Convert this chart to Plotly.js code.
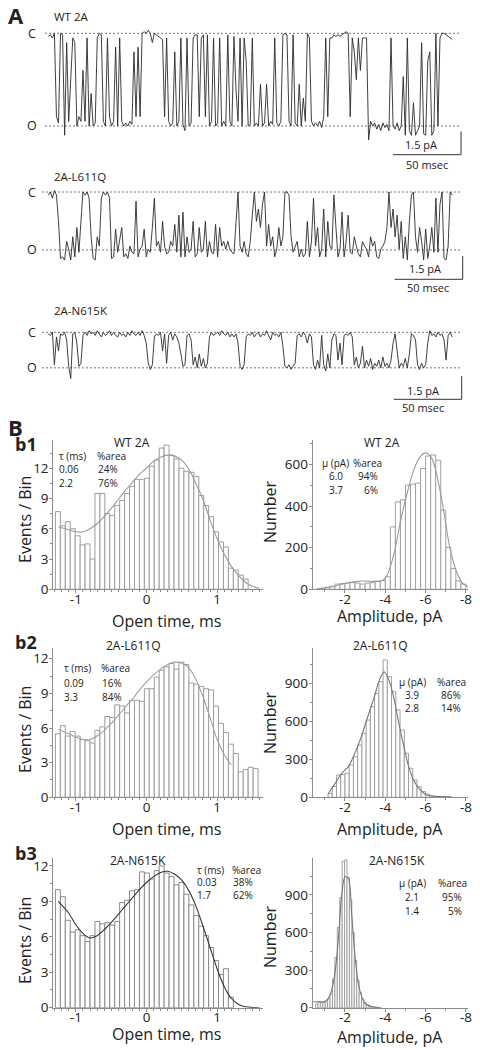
<!DOCTYPE html>
<html><head><meta charset="utf-8">
<script src="https://cdn.plot.ly/plotly-3.0.1.min.js"></script>
<style>html,body{margin:0;padding:0;background:#fff}#chart{width:480px;height:1050px}</style>
</head><body><div id="chart"></div>
<script>
// ---------------- DATA ----------------
// Panel A: single-channel current traces (pA), sampled every 1.5 ms
const sampleMs = 1.5;
const traceNames = ['WT 2A', '2A-L611Q', '2A-N615K'];
const openLevels = [-6.0, -3.75, -2.3];
const wtCurrent = [
-0.2,-0.1,-0.3,0,-5.4,-5.8,0,-0.1,-6.6,-0.6,-5.7,-3.0,-0.3,-0.6,-6.0,-5.4,-5.7,-2.4,-5.7,-0.3,
-6.0,-3.9,-6.0,-5.8,-0.3,0,-0.1,-5.7,-6.0,-0.3,-5.4,-6.0,-5.7,-0.9,-6.0,-0.3,-5.7,-6.0,-5.8,-6.0,
-5.7,-5.9,-1.2,-5.4,-0.9,-5.4,0,0.1,0,0.2,0,-0.6,0,-0.1,-0.2,-0.3,-0.4,-5.4,-0.3,-5.7,
-6.0,-5.8,-1.2,-6.0,-5.7,-0.3,-5.9,-6.3,-0.3,-6.0,-5.8,-0.3,-0.1,-0.1,-5.4,-0.3,-0.1,-5.4,-0.1,-6.0,
-5.7,-0.3,-6.0,-5.8,-0.3,-6.0,-5.7,-6.0,-0.1,-5.7,-6.0,-0.2,-3.6,-5.7,-0.3,-6.0,-0.3,-1.8,-6.0,-5.9,
-0.3,-6.0,-5.8,-6.0,-3.3,-6.0,-5.8,-3.3,-6.0,-5.7,-5.9,-0.3,-5.8,-6.0,-5.7,-0.1,0,-0.1,-5.7,-6.0,
-0.1,-5.8,-6.0,-3.3,-6.0,-4.2,-5.7,0,-0.3,-5.7,-6.0,-5.8,-6.0,-5.7,-6.1,-5.4,-0.3,-5.4,-0.3,-0.3,
-0.1,-0.2,-0.1,-0.2,-0.1,0,0.1,0,-5.4,-0.3,-1.2,-3.0,-0.3,-2.4,-0.3,-0.3,-0.3,-6.9,-5.7,-6.0,
-5.8,-6.2,-5.9,-6.3,-5.8,-6.1,-5.9,-6.3,-0.3,-6.0,-6.2,-5.8,-6.3,-6.0,-2.8,-6.6,-0.3,-6.3,-6.6,-4.5,
-6.6,-6.3,-6.0,-0.6,-6.5,-6.6,-1.8,-1.2,-6.6,-6.3,0,-6.0,-0.3,0,0,-0.1,-0.2,-0.3,-0.4];
const l611qCurrent = [
-0.2,0,-0.4,0.1,-0.2,-1.9,-4.3,-4.2,-4.4,-3.2,-3.7,-4.4,-2.9,-4.2,-2.3,-3.9,-1.9,0,-0.2,0,
-0.4,-2.9,-4.3,-4.4,-2.9,-3.5,-0.4,0,-0.2,0,-0.4,-4.3,-4.2,-2.4,-3.9,-3.2,-2.3,-4.2,-4.0,-4.3,
-3.5,-3.9,-4.0,-0.6,-4.2,-3.7,-3.5,-2.4,-4.2,-3.7,-3.9,-2.3,-0.4,-3.5,-3.2,-3.9,-1.9,-3.5,-4.0,-3.9,
-3.2,-3.5,-2.1,-3.9,-1.5,-4.2,-1.3,-4.2,-2.9,-3.9,-3.7,-1.9,-4.2,-4.0,-2.3,-3.9,-3.7,-1.9,-4.2,-3.2,
-3.9,-4.0,-2.1,-4.2,-2.3,-3.5,-3.2,-3.7,-3.2,-3.7,-3.9,-4.0,-2.3,0,-3.5,-3.9,-3.2,-4.0,-4.2,-3.2,
-1.5,0,-1.9,-1.1,-2.3,-0.8,0,-3.5,-2.1,-3.5,-2.9,-4.2,-3.7,-2.3,-3.5,-2.9,0,0,-0.2,-2.9,
-3.9,-3.5,-3.2,-4.2,-3.7,-4.2,-4.0,-1.9,-4.2,-3.2,-0.4,-3.5,-2.3,-4.2,-3.7,-1.1,-4.2,-1.9,-3.5,-3.7,
-0.2,-2.3,-4.2,-3.7,-1.3,-4.2,-3.2,-1.5,-3.9,-4.0,-2.9,-3.5,-4.0,-4.2,-3.2,-3.5,-3.7,-4.2,-2.9,-3.5,
-3.2,-4.2,-4.3,-3.7,-3.5,-3.2,-2.3,0,-2.3,-1.1,-2.9,-1.5,-3.7,-1.9,-4.3,-2.9,-4.4,-1.9,-0.2,0,
-2.9,-3.9,-2.3,-3.2,-4.4,-2.4,-4.3,-3.5,-2.3,-3.9,-0.4,-3.9,-0.8,0,-4.3,-4.4,-3.5,0,-0.2];
const n615kCurrent = [
-0.1,-0.2,0,-2.1,-0.3,-1.2,-0.1,-0.2,0,-0.5,-2.2,-3.0,-0.1,0,-0.7,-2.2,-2.0,-0.2,0,-0.2,
0.1,-0.1,0,-0.2,0.1,-0.1,-0.3,0,-0.2,-0.1,0.1,-0.2,0,-0.2,-0.3,0,-0.2,-0.1,-0.3,0,
-0.2,0.1,-0.1,-0.2,0,-0.2,0.1,-0.2,-0.7,-2.0,-2.4,-2.1,-0.3,-0.1,-0.2,0,-1.2,-0.1,-2.0,-0.2,
0,-0.5,-0.1,-0.3,-0.7,-1.4,-2.2,-2.1,-0.2,-0.1,-0.5,-2.1,-1.6,-2.3,-1.4,-2.2,-1.7,-2.3,-2.0,-0.3,
0,-0.2,-0.1,0,-0.2,0.1,-0.1,-0.2,0,-0.3,-0.1,-0.3,-0.1,-0.7,-2.2,-2.4,-2.1,-0.3,-0.1,-0.2,
0,-0.3,-0.1,0,-0.3,-0.1,-0.2,0.1,-0.2,-0.5,0,-0.2,-0.1,-0.3,0,-0.9,-2.2,-2.3,-2.1,-2.4,
-2.2,-2.0,-0.2,-0.1,-0.3,0,-0.2,-0.7,-0.1,-0.3,-2.1,-2.4,-1.8,-2.3,-0.2,-2.1,-2.5,-1.4,-2.3,-0.5,
-0.1,-0.2,-1.8,-0.7,-2.1,-0.2,-0.1,-0.2,0,-0.3,-2.1,-1.6,-2.3,-2.0,-0.9,-2.3,-1.8,-2.2,-1.7,-2.4,
-2.0,-2.2,-1.8,-2.3,-1.6,-2.2,-2.0,-2.3,-1.8,-0.7,-0.1,-1.4,-2.3,-2.0,-2.2,-1.7,-2.3,-1.4,-0.1,-0.2,
-0.5,-2.1,-2.4,-2.0,-2.3,-2.1,-0.7,0.1,-0.2,-0.1,-0.3,0,-0.2,-0.1,-0.5,-1.8,-0.2,0,-0.3];
const scaleBarPA = 1.5, scaleBarMs = 50;

// Panel B: open-time histograms (log10 ms bins)
const openBinStart = -1.255, openBinWidth = 0.07;
const wtOpenCounts = [7.7,6.3,6.7,6.0,5.3,4.4,4.5,3.0,9.5,9.5,7.5,7.3,8.3,8.8,9.5,10.2,10.9,10.9,11.0,12.2,12.8,14.0,14.3,13.3,12.9,12.0,11.7,11.6,11.2,9.3,8.3,7.2,5.7,4.7,4.2,2.1,1.9,1.4,1.0];
const l611qOpenCounts = [5.5,6.2,5.3,5.7,5.3,5.0,4.9,4.7,5.8,6.1,7.0,6.9,8.0,7.9,7.3,8.4,8.4,8.3,9.4,9.4,10.4,11.0,11.3,11.6,11.1,11.7,11.5,9.9,9.8,9.6,9.4,9.3,7.9,6.4,5.6,4.6,3.8,2.2,2.4,2.6,2.5];
const n615kOpenCounts = [10.0,9.4,7.4,6.4,6.6,6.1,5.6,6.1,7.3,7.1,7.2,7.0,7.3,8.9,9.1,9.9,10.0,11.5,11.4,10.9,11.6,12.0,11.4,11.1,10.4,10.6,9.6,8.7,7.8,6.9,6.1,5.1,4.0,2.8,3.3,0.9];
const openFitX = [-1.25,-1.1,-1.0,-0.9,-0.8,-0.7,-0.6,-0.5,-0.4,-0.3,-0.2,-0.1,0,0.1,0.2,0.3,0.4,0.5,0.6,0.7,0.8,0.9,1.0,1.1,1.2,1.3,1.4,1.5,1.6];
const wtOpenFitY = [6.2,5.9,5.7,5.7,6.0,6.5,7.2,8.0,8.9,9.8,10.6,11.4,12.0,12.7,13.1,13.3,13.2,12.8,11.9,10.5,8.9,6.9,5.0,3.5,2.3,1.4,0.7,0.3,0.1];
const l611qOpenFitY = [5.9,5.5,5.2,5.0,5.0,5.3,5.8,6.4,7.1,7.8,8.5,9.3,10.0,10.6,11.1,11.5,11.7,11.6,11.2,10.2,8.7,6.9,5.0,3.7,2.8];
const n615kOpenFitY = [9.0,8.0,7.0,6.3,5.9,6.1,6.6,7.2,7.9,8.6,9.3,10.0,10.6,11.1,11.45,11.55,11.3,10.8,9.9,8.6,6.9,5.1,3.3,1.8,0.8,0.3,0.08,0.02,0];

// Panel B: amplitude histograms (pA)
const wtAmpStart = -0.875, wtAmpWidth = 0.25;
const wtAmpCounts = [5,10,15,25,28,30,32,30,25,30,32,38,42,60,300,420,430,500,505,510,580,640,645,620,380,200,100,40,25];
const l611qAmpStart = -1.265, l611qAmpWidth = 0.21;
const l611qAmpCounts = [30,85,176,180,190,255,320,413,505,610,715,820,913,1084,952,834,690,531,347,229,137,84,45,26,12,8,5,3,2];
const n615kAmpStart = -0.6, n615kAmpWidth = 0.12;
const n615kAmpCounts = [30,45,40,40,45,70,110,230,400,640,880,1170,1180,1040,860,600,380,220,120,70,40,25,15,10,6,4];
const wtAmpFitX = [-0.6,-1.0,-1.5,-2.0,-2.5,-3.0,-3.5,-3.9,-4.1,-4.43,-4.76,-5.08,-5.4,-5.73,-6.0,-6.3,-6.54,-6.86,-7.19,-7.5,-7.83,-8.08];
const wtAmpFitY = [2,6,15,28,37,40,38,45,70,170,330,460,570,637,655,630,556,397,205,93,29,13];
const l611qAmpFitX = [-1.16,-1.51,-1.84,-2.16,-2.49,-2.81,-3.13,-3.46,-3.7,-3.94,-4.18,-4.43,-4.67,-4.92,-5.16,-5.4,-5.73,-6.05,-6.7,-7.3];
const l611qAmpFitY = [26,110,190,240,347,479,636,794,925,990,925,780,584,400,242,137,58,18,5,2];
const n615kAmpFitX = [-0.43,-0.68,-1.0,-1.17,-1.34,-1.5,-1.67,-1.83,-2.0,-2.17,-2.33,-2.5,-2.66,-2.83,-2.99,-3.32,-3.8];
const n615kAmpFitY = [48,48,50,75,141,274,540,887,1046,1033,754,407,194,88,35,8,2];

const openTables = [
  {head:['\u03c4 (ms)','%area'], rows:[['0.06','24%'],['2.2','76%']]},
  {head:['\u03c4 (ms)','%area'], rows:[['0.09','16%'],['3.3','84%']]},
  {head:['\u03c4 (ms)','%area'], rows:[['0.03','38%'],['1.7','62%']]}
];
const ampTables = [
  {head:['\u03bc (pA)','%area'], rows:[['6.0','94%'],['3.7','6%']]},
  {head:['\u03bc (pA)','%area'], rows:[['3.9','86%'],['2.8','14%']]},
  {head:['\u03bc (pA)','%area'], rows:[['2.1','95%'],['1.4','5%']]}
];

// ---------------- LAYOUT / DRAWING ----------------
const W = 480, H = 1050;
const FONT = '"Open Sans", "DejaVu Sans", sans-serif';
const px = x => x / W, py = y => 1 - y / H;
const data = [], shapes = [], ann = [];
const layout = {width: W, height: H, margin: {l:0, r:0, t:0, b:0}, paper_bgcolor: '#fff',
  plot_bgcolor: 'rgba(0,0,0,0)', showlegend: false, font: {family: FONT, color: '#222'}};

function txt(x, y, s, size, opts) {
  ann.push(Object.assign({xref:'paper', yref:'paper', x:px(x), y:py(y), text:s, showarrow:false,
    font:{family:FONT, size:size, color:'#222'}, xanchor:'center', yanchor:'middle', borderpad:0}, opts || {}));
}

// ---- Panel A ----
const T0PX = 48.3, PX_PER_MS = 1.36, PX_PER_PA = 15.45;
const tOf = p => (p - T0PX) / PX_PER_MS;
const traceGeom = [
  {cPx:33.3, dom:[18,170], dash:[45,460], barX:461, barBot:154.7, pa:[421,144.5], ms:[427,164], label:[53,16.7]},
  {cPx:192, dom:[172,300], dash:[42,460], barX:462.7, barBot:279.3, pa:[425,268], ms:[428,287], label:[53,176.7]},
  {cPx:332.3, dom:[312,420], dash:[42,460], barX:461.7, barBot:399.3, pa:[423,390], ms:[423,407.5], label:[53,310]}
];
const currents = [wtCurrent, l611qCurrent, n615kCurrent];
currents.forEach((cur, k) => {
  const g = traceGeom[k];
  const sfx = k === 0 ? '' : String(k + 1);
  const top = (g.cPx - g.dom[0]) / PX_PER_PA;
  const bot = top - (g.dom[1] - g.dom[0]) / PX_PER_PA;
  layout['xaxis' + sfx] = {domain:[px(40), px(470)], range:[tOf(40), tOf(470)], visible:false, fixedrange:true, anchor:'y' + sfx};
  layout['yaxis' + sfx] = {domain:[py(g.dom[1]), py(g.dom[0])], range:[bot, top], visible:false, fixedrange:true, anchor:'x' + sfx};
  const t = cur.map((_, i) => i * sampleMs);
  data.push({type:'scatter', mode:'lines', x:t, y:cur, xaxis:'x' + sfx, yaxis:'y' + sfx,
    line:{color:'#2a2a2a', width:0.9}, hoverinfo:'skip'});
  [0, openLevels[k]].forEach(lv => {
    shapes.push({type:'line', xref:'x' + sfx, yref:'y' + sfx, x0:tOf(g.dash[0]), x1:tOf(g.dash[1]), y0:lv, y1:lv,
      line:{color:'#777', width:1, dash:'2px,2px'}, layer:'below'});
  });
  ann.push({xref:'paper', yref:'y' + sfx, x:px(31.7), y:0, text:'C', showarrow:false, font:{family:FONT, size:12.5, color:'#222'}, xanchor:'center', yanchor:'middle'});
  ann.push({xref:'paper', yref:'y' + sfx, x:px(31.7), y:openLevels[k], text:'O', showarrow:false, font:{family:FONT, size:12.5, color:'#222'}, xanchor:'center', yanchor:'middle'});
  // scale bars
  const yb = (g.cPx - g.barBot) / PX_PER_PA;
  const xb = tOf(g.barX);
  shapes.push({type:'line', xref:'x' + sfx, yref:'y' + sfx, x0:xb, x1:xb, y0:yb, y1:yb + scaleBarPA, line:{color:'#333', width:1}});
  shapes.push({type:'line', xref:'x' + sfx, yref:'y' + sfx, x0:xb - scaleBarMs, x1:xb, y0:yb, y1:yb, line:{color:'#333', width:1}});
  txt(g.pa[0], g.pa[1], scaleBarPA + ' pA', 11);
  txt(g.ms[0], g.ms[1], scaleBarMs + ' msec', 11);
  txt(g.label[0], g.label[1], traceNames[k], 11.5, {xanchor:'left'});
});
txt(16, 15, '<b>A</b>', 22);
txt(15, 427, '<b>B</b>', 22);

// ---- Panel B ----
const axBase = {showline:true, linecolor:'#8c8c8c', linewidth:1, ticks:'outside', ticklen:3, tickwidth:1,
  tickcolor:'#8c8c8c', showgrid:false, zeroline:false, fixedrange:true, ticklabelstandoff:-2,
  tickfont:{family:FONT, size:13.5, color:'#222'}};
const X_STANDOFF = -6;
const rowsY = [[440,589.3],[648.3,797.3],[858.3,1007.7]];
const openYTop = [14.8, 12.9, 12.65];
const ampYTop = [717, 1176, 1193];
const openCounts = [wtOpenCounts, l611qOpenCounts, n615kOpenCounts];
const openFitYs = [wtOpenFitY, l611qOpenFitY, n615kOpenFitY];
const openFitColors = ['#9a9a9a', '#a0a0a0', '#333'];
const ampStarts = [wtAmpStart, l611qAmpStart, n615kAmpStart];
const ampWidths = [wtAmpWidth, l611qAmpWidth, n615kAmpWidth];
const ampCounts = [wtAmpCounts, l611qAmpCounts, n615kAmpCounts];
const ampFitXs = [wtAmpFitX, l611qAmpFitX, n615kAmpFitX];
const ampFitYs = [wtAmpFitY, l611qAmpFitY, n615kAmpFitY];
const ampFitColors = ['#9a9a9a', '#777', '#777'];
const openTitleY = [621, 828.5, 1034];
const ampTitleY = [616, 829, 1037];
const evTitleY = [520, 730, 941];
const numTitleY = [512, 723, 937];
const panelTitles = [[131.7,442.7,381.7,442.7],[133.3,645,380,645],[138.3,860,396.7,860]];
const openTablePos = [
  {c1:58, c2:95.5, ys:[455.7,469.3,482.7]},
  {c1:63.3, c2:100, ys:[668.3,682.7,696.7]},
  {c1:195.5, c2:231, ys:[869.5,882,894.5]}
];
const ampTablePos = [
  {c1:335.7, c2:367.5, ys:[462.7,476,490]},
  {c1:412.3, c2:451, ys:[681.5,694.5,707.5]},
  {c1:412.3, c2:452, ys:[882.7,896.7,911]}
];
const TBL = 10;

for (let r = 0; r < 3; r++) {
  const axL = 4 + 2 * r, axR = 5 + 2 * r;
  const [y0, y1] = rowsY[r];
  // open time histogram
  layout['xaxis' + axL] = Object.assign({}, axBase, {domain:[px(53.3), px(263)], range:[-1.32, 1.65], anchor:'y' + axL,
    tickvals:[-1, 0, 1], ticktext:['-1', '0', '1'], ticklabelstandoff:X_STANDOFF,
    minor:{dtick:0.1, tick0:0, ticks:'outside', ticklen:2, tickcolor:'#8c8c8c', showgrid:false}});
  layout['yaxis' + axL] = Object.assign({}, axBase, {domain:[py(y1), py(y0)], range:[0, openYTop[r]], anchor:'x' + axL,
    tickvals:[0, 3, 6, 9, 12],
    minor:{dtick:1.5, tick0:0, ticks:'outside', ticklen:2, tickcolor:'#8c8c8c', showgrid:false}});
  const oc = openCounts[r];
  data.push({type:'bar', x:oc.map((_, i) => openBinStart + i * openBinWidth), y:oc, width:openBinWidth,
    xaxis:'x' + axL, yaxis:'y' + axL, marker:{color:'#fff', line:{color: r === 2 ? '#8a8a8a' : '#9d9d9d', width:1}}, hoverinfo:'skip'});
  const fy = openFitYs[r];
  data.push({type:'scatter', mode:'lines', x:openFitX.slice(0, fy.length), y:fy, xaxis:'x' + axL, yaxis:'y' + axL,
    line:{color:openFitColors[r], width:1.1, shape:'spline', smoothing:0.8}, hoverinfo:'skip'});

  // amplitude histogram
  const ytv = r === 0 ? [0, 200, 400, 600] : [0, 300, 600, 900];
  layout['xaxis' + axR] = Object.assign({}, axBase, {domain:[px(312.7), px(468)], range:[-0.4, -8.1], anchor:'y' + axR,
    tickvals:[-2, -4, -6, -8], ticktext:['-2', '-4', '-6', '-8'], ticklabelstandoff:X_STANDOFF,
    minor:{dtick:1, tick0:0, ticks:'outside', ticklen:2, tickcolor:'#8c8c8c', showgrid:false}});
  layout['yaxis' + axR] = Object.assign({}, axBase, {domain:[py(y1), py(y0)], range:[0, ampYTop[r]], anchor:'x' + axR,
    tickvals:ytv,
    minor:{dtick:ytv[1] / 2, tick0:0, ticks:'outside', ticklen:2, tickcolor:'#8c8c8c', showgrid:false}});
  const ac = ampCounts[r];
  data.push({type:'bar', x:ac.map((_, i) => ampStarts[r] - i * ampWidths[r]), y:ac, width:ampWidths[r],
    xaxis:'x' + axR, yaxis:'y' + axR, marker:{color:'#fff', line:{color:'#a0a0a0', width:1}}, hoverinfo:'skip'});
  data.push({type:'scatter', mode:'lines', x:ampFitXs[r], y:ampFitYs[r], xaxis:'x' + axR, yaxis:'y' + axR,
    line:{color:ampFitColors[r], width:1.1, shape:'spline', smoothing:0.8}, hoverinfo:'skip'});

  // axis titles
  txt(25, evTitleY[r], 'Events / Bin', 16, {textangle:-90});
  txt(166.7, openTitleY[r], 'Open time, ms', 16);
  txt(270, numTitleY[r], 'Number', 16, {textangle:-90});
  txt(390, ampTitleY[r], 'Amplitude, pA', 16);
  // panel labels & titles
  txt(26, [444, 642, 853][r], '<b>b' + (r + 1) + '</b>', 18);
  const pt = panelTitles[r];
  txt(pt[0], pt[1], traceNames[r], 12);
  txt(pt[2], pt[3], traceNames[r], 12);
  // tables
  const ot = openTables[r], op = openTablePos[r];
  txt(op.c1, op.ys[0], ot.head[0], TBL, {xanchor:'left'});
  txt(op.c2, op.ys[0], ot.head[1], TBL, {xanchor:'left'});
  ot.rows.forEach((row, j) => {
    txt(op.c1, op.ys[j + 1], row[0], TBL, {xanchor:'left'});
    txt(op.c2 + 1, op.ys[j + 1], row[1], TBL, {xanchor:'left'});
  });
  const at = ampTables[r], ap = ampTablePos[r];
  txt(ap.c1, ap.ys[0], at.head[0], TBL);
  txt(ap.c2, ap.ys[0], at.head[1], TBL);
  at.rows.forEach((row, j) => {
    txt(ap.c1, ap.ys[j + 1], row[0], TBL);
    txt(ap.c2 + (j === 1 && row[1].length < 3 ? 3 : 0), ap.ys[j + 1], row[1], TBL);
  });
}

layout.shapes = shapes;
layout.annotations = ann;
Plotly.newPlot('chart', data, layout, {staticPlot:true, displayModeBar:false});
</script>
</body></html>
